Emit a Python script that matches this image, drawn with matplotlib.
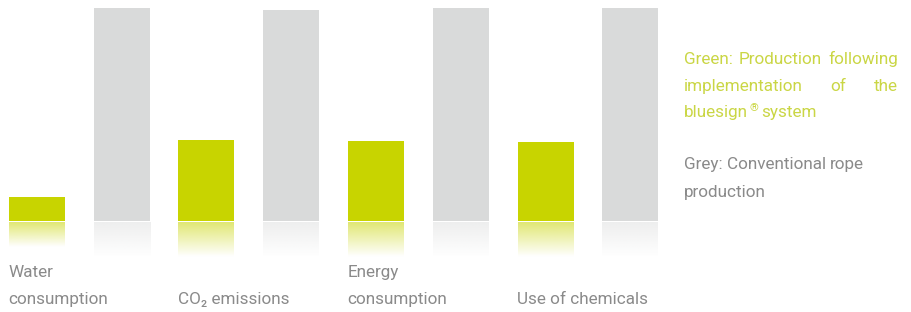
import matplotlib
matplotlib.use('Agg')
import matplotlib.pyplot as plt
import numpy as np
from matplotlib.colors import to_rgb

# ---- data ----
categories = [["Water", "consumption"], ["CO\u2082 emissions"], ["Energy", "consumption"], ["Use of chemicals"]]
bluesign = [11.3, 38.0, 37.6, 37.1]
conventional = [100, 99.1, 100, 100]
legend_green = "Green: Production following implementation of the bluesign\u00ae system"
legend_grey = "Grey: Conventional rope production"

GREEN = "#c8d400"
GREY = "#d9dada"
GREEN_TXT = "#cad645"
GREY_TXT = "#8a8a8a"
FONT = ['Roboto', 'DejaVu Sans']
WEIGHT = 'normal'

W, H = 911, 312
fig = plt.figure(figsize=(W / 100, H / 100), dpi=100)
ax = fig.add_axes([0, 0, 1, 1])
ax.axis('off')

# pixel geometry -> data scale
px_per_unit_x = 169.55
x0_px = 79.3
px_per_unit_y = 2.13
base_px = 221
xlim = (-x0_px / px_per_unit_x, (W - x0_px) / px_per_unit_x)
ylim = (-(H - base_px) / px_per_unit_y, base_px / px_per_unit_y)

off = 0.25
bw = 56 / px_per_unit_x
x = np.arange(len(categories))

ax.bar(x - off, bluesign, width=bw, color=GREEN, zorder=2)
ax.bar(x + off, conventional, width=bw, color=GREY, zorder=2)

# reflections
refl_max = 34 / px_per_unit_y
gap = 1.5 / px_per_unit_y

def reflection(xc, h, color, a0):
    rh = min(h, refl_max)
    n = 64
    alpha = np.linspace(a0, 0.0, n)
    img = np.zeros((n, 1, 4))
    img[:, 0, :3] = to_rgb(color)
    img[:, 0, 3] = alpha
    ax.imshow(img, extent=[xc - bw / 2, xc + bw / 2, -gap - rh, -gap],
              aspect='auto', origin='upper', interpolation='bilinear', zorder=1)

for i in range(len(categories)):
    reflection(x[i] - off, bluesign[i], GREEN, 0.55)
    reflection(x[i] + off, conventional[i], GREY, 0.45)

ax.set_xlim(*xlim)
ax.set_ylim(*ylim)

fs = 12.3
# category labels (two line slots, bottom aligned)
line_baselines = [277, 304]
for i, lines in enumerate(categories):
    xl = x[i] - off - bw / 2 - 0.5 / px_per_unit_x
    start = len(line_baselines) - len(lines)
    for j, ln in enumerate(lines):
        yb = line_baselines[start + j]
        ax.text(xl, (base_px - yb) / px_per_unit_y, ln, ha='left', va='baseline',
                fontsize=fs, color=GREY_TXT, family=FONT, fontweight=WEIGHT)

# legend text
fig.canvas.draw()
renderer = fig.canvas.get_renderer()

def text_width(w, size=fs):
    t = fig.text(0, 0, w, fontsize=size, family=FONT, fontweight=WEIGHT)
    bb = t.get_window_extent(renderer)
    t.remove()
    return bb.width

SUP = "\u00ae"

def word_width(w):
    if w.count(SUP):
        base, rest = w.split(SUP, 1)
        return text_width(base) + text_width(SUP, fs * 0.65) + (text_width(rest) if rest else 0)
    return text_width(w)

def draw_word(w, xc, yb, color):
    if SUP in w:
        base, rest = w.split(SUP, 1)
        fig.text(xc / W, 1 - yb / H, base, fontsize=fs, family=FONT, fontweight=WEIGHT,
                 color=color, ha='left', va='baseline')
        xs = xc + text_width(base) + 1
        fig.text(xs / W, 1 - (yb - 6) / H, SUP, fontsize=fs * 0.65, family=FONT,
                 fontweight=WEIGHT, color=color, ha='left', va='baseline')
        if rest:
            draw_word(rest, xs + text_width(SUP, fs * 0.65), yb, color)
    else:
        fig.text(xc / W, 1 - yb / H, w, fontsize=fs, family=FONT, fontweight=WEIGHT,
                 color=color, ha='left', va='baseline')

space = text_width("a b") - text_width("ab")

def place_line(words, xl, xr, yb, color, justify):
    ws = [word_width(w) for w in words]
    if justify and len(words) > 1:
        g = (xr - xl - sum(ws)) / (len(words) - 1)
    else:
        g = space
    xc = xl
    for w, ww in zip(words, ws):
        draw_word(w, xc, yb, color)
        xc += ww + g

def wrap_block(text, xl, xr, yb0, lh, color, justify):
    words = text.split()
    lines, cur = [], []
    for w in words:
        trial = cur + [w]
        width = sum(word_width(t) for t in trial) + space * (len(trial) - 1)
        if width > (xr - xl) and cur:
            lines.append(cur)
            cur = [w]
        else:
            cur = trial
    lines.append(cur)
    for k, ln in enumerate(lines):
        place_line(ln, xl, xr, yb0 + k * lh, color, justify=(justify and k < len(lines) - 1))

wrap_block(legend_green, 684, 898, 64, 26.5, GREEN_TXT, True)
wrap_block(legend_grey, 684, 884, 169, 27.5, GREY_TXT, False)

fig.savefig("out.png", dpi=100)
